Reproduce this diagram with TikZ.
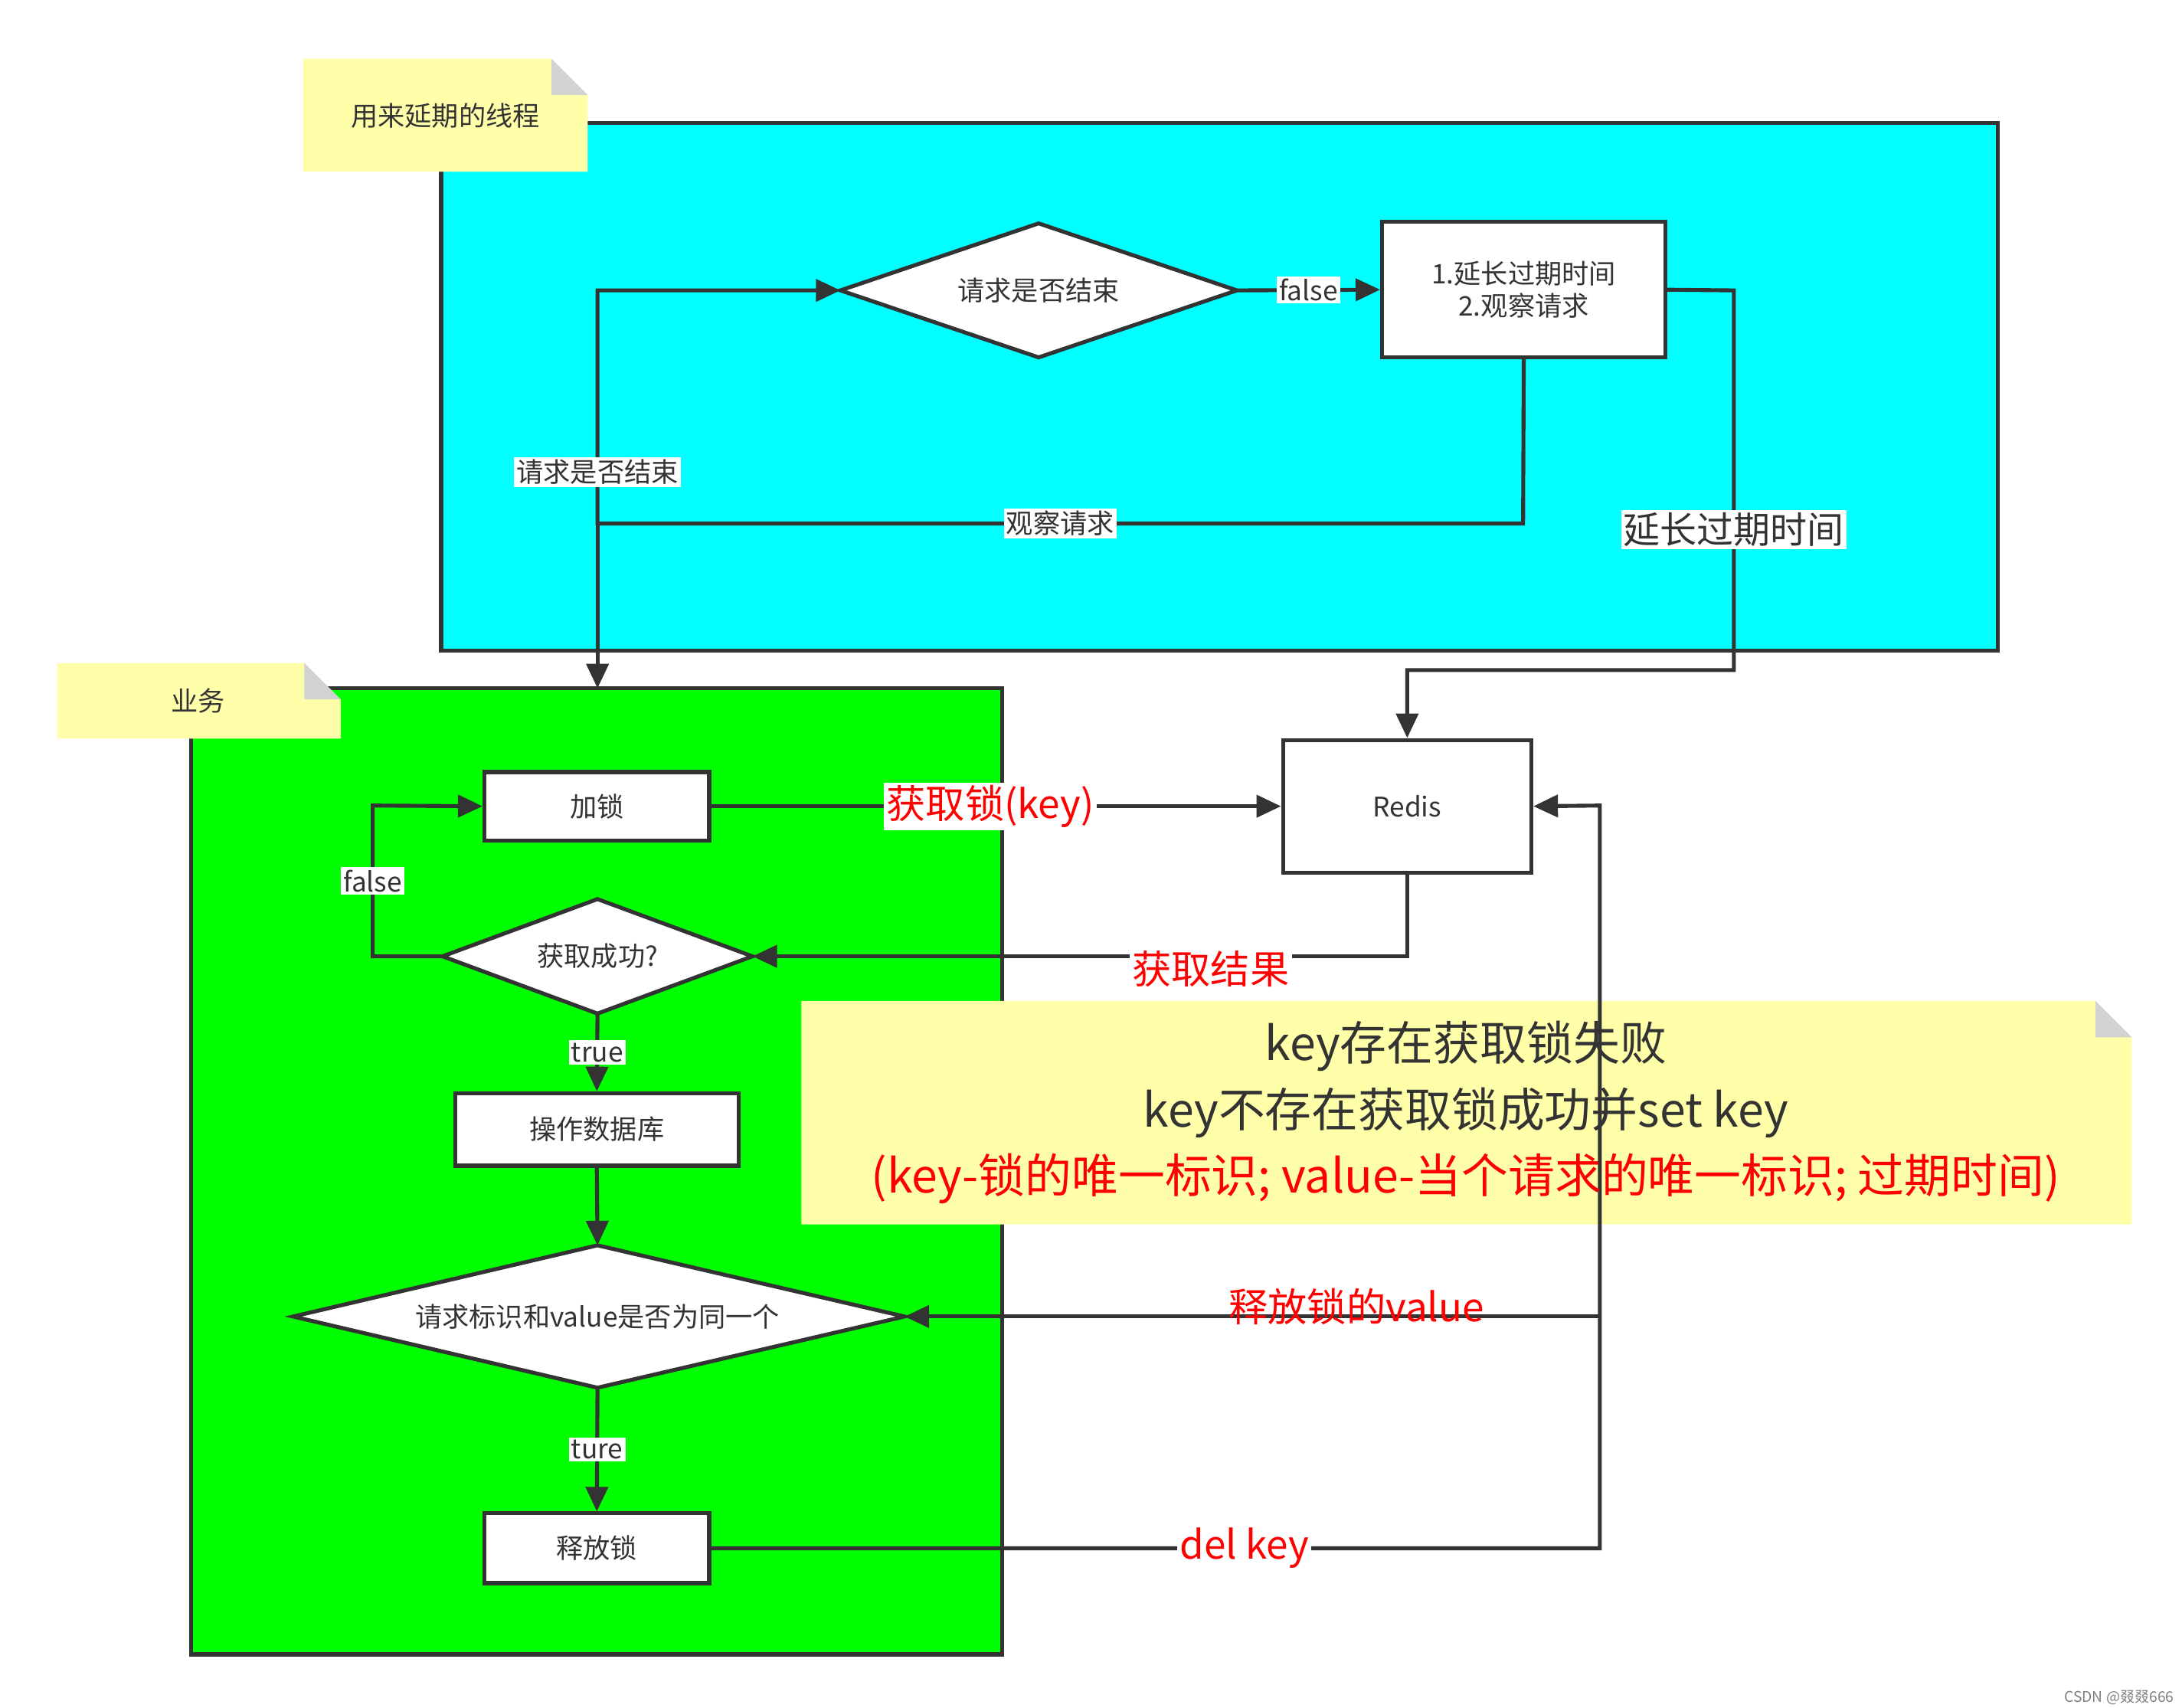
\documentclass[tikz,border=0pt]{standalone}
\usepackage{fontspec}
\setmainfont{Noto Sans CJK SC}
\usetikzlibrary{shapes.geometric,arrows.meta}
\definecolor{ln}{HTML}{333333}
\definecolor{notey}{HTML}{FFFFAA}
\definecolor{cy}{HTML}{00FFFF}
\definecolor{gr}{HTML}{00FF00}
\begin{document}
\begin{tikzpicture}[x=0.02cm,y=-0.02cm,
  every node/.style={font=\fontsize{11}{13}\selectfont, text=ln},
  box/.style={draw=ln,line width=1.6pt,fill=white,rectangle,inner sep=0,align=center},
  dshape/.style={draw=ln,line width=1.6pt,fill=white},
  con/.style={draw=ln,line width=1.6pt},
  arr/.style={con,-{Triangle[length=10pt,width=9pt]}},
  lab/.style={fill=white,inner sep=1pt},
  rlab/.style={fill=white,inner sep=1pt,text=red,font=\fontsize{16}{18}\selectfont},
  nfill/.style={fill=notey},
  fold/.style={fill=gray!35}]
\useasboundingbox (0,0) rectangle (1563,1223);
\fill[white] (0,0) rectangle (1563,1223);
% containers
\draw[fill=cy,draw=ln,line width=1.6pt] (316,88) rectangle (1431,466);
\draw[fill=gr,draw=ln,line width=1.6pt] (137,493) rectangle (718,1185);
% notes
\fill[nfill] (217,42) -- (395,42) -- (421,68) -- (421,123) -- (217,123) -- cycle;
\fill[fold] (395,42) -- (395,68) -- (421,68) -- cycle;
\node (n1) at (319,83) {用来延期的线程};
\fill[nfill] (41,475) -- (218,475) -- (244,501) -- (244,529) -- (41,529) -- cycle;
\fill[fold] (218,475) -- (218,501) -- (244,501) -- cycle;
\node (n2) at (142,502) {业务};
% diamonds
\coordinate (d1w) at (602,208); \coordinate (d1e) at (886,208);
\coordinate (d1n) at (744,160); \coordinate (d1s) at (744,256);
\draw[dshape] (d1w) -- (d1n) -- (d1e) -- (d1s) -- cycle;
\node (d1) at (744,208) {请求是否结束};
\coordinate (d2w) at (317,685); \coordinate (d2e) at (539,685);
\coordinate (d2n) at (428,644); \coordinate (d2s) at (428,726);
\draw[dshape] (d2w) -- (d2n) -- (d2e) -- (d2s) -- cycle;
\node (d2) at (428,685) {获取成功?};
\coordinate (d3w) at (210,943); \coordinate (d3e) at (648,943);
\coordinate (d3n) at (428,892); \coordinate (d3s) at (428,994);
\draw[dshape] (d3w) -- (d3n) -- (d3e) -- (d3s) -- cycle;
\node (d3) at (428,943) {请求标识和value是否为同一个};
% boxes
\node[box,minimum width=4.06cm,minimum height=1.94cm] (b1) at (1091.5,207.5) {1.延长过期时间\\2.观察请求};
\node[box,minimum width=3.56cm,minimum height=1.9cm] (redis) at (1008,577.5) {Redis};
\node[box,minimum width=3.22cm,minimum height=0.98cm] (lock) at (427.5,577.5) {加锁};
\node[box,minimum width=4.06cm,minimum height=1.04cm] (db) at (427.5,809) {操作数据库};
\node[box,minimum width=3.22cm,minimum height=1.0cm] (rel) at (427.5,1109) {释放锁};
% big note
\fill[nfill] (574,717) -- (1501,717) -- (1527,743) -- (1527,877) -- (574,877) -- cycle;
\fill[fold] (1501,717) -- (1501,743) -- (1527,743) -- cycle;
% connectors
\coordinate (j1) at (428,375);
\draw[arr] (d1e) -- node[lab]{false} (b1.west);
\draw[arr] (b1.south) -- (1091,375) -- node[lab,pos=0.5]{观察请求} (j1) -- node[lab,pos=0.22]{请求是否结束} (428,208) -- (d1w);
\draw[arr] (j1) -- (428,493);
\draw[arr] (b1.east) -- (1242,208) -- node[lab,font=\fontsize{15}{17}\selectfont,pos=0.63]{延长过期时间} (1242,480) -- (1008,480) -- (redis.north);
\draw[arr] (lock.east) -- node[rlab,pos=0.49]{获取锁(key)} (redis.west);
\draw[arr] (redis.south) -- (1008,685) -- node[rlab,pos=0.3,yshift=-0.18cm]{获取结果} (d2e);
\draw[arr] (d2w) -- (267,685) -- node[lab]{false} (267,577) -- (lock.west);
\draw[arr] (d2s) -- node[lab]{true} (db.north);
\draw[arr] (db.south) -- (d3n);
\draw[arr] (d3s) -- node[lab]{ture} (rel.north);
\draw[arr] (rel.east) -- node[rlab,pos=0.6]{del key} (1146,1109) -- (1146,577) -- (redis.east);
\draw[arr] (1146,943) -- node[rlab,pos=0.35,yshift=0.14cm,fill=none]{释放锁的value} (d3e);
\node[font=\fontsize{19}{27}\selectfont,align=center] (nt) at (1050,797) {key存在获取锁失败\\key不存在获取锁成功并set key\\\textcolor{red}{(key-锁的唯一标识; value-当个请求的唯一标识; 过期时间)}};
\node[font=\fontsize{6}{7}\selectfont,text=gray] (wm) at (1518,1216) {CSDN @叕叕666};
\end{tikzpicture}
\end{document}
